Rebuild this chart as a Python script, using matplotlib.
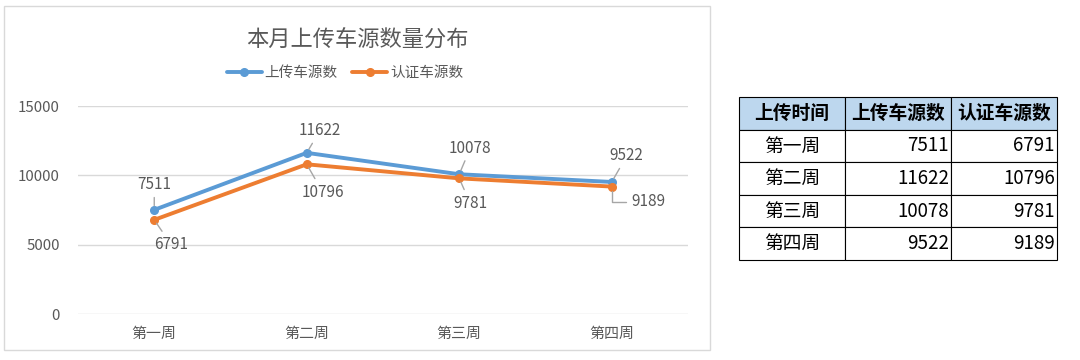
import matplotlib
matplotlib.use("Agg")
import matplotlib.pyplot as plt
from matplotlib.patches import Rectangle

plt.rcParams['font.family'] = ['Noto Sans CJK SC', 'DejaVu Sans']

title = "本月上传车源数量分布"
categories = ["第一周", "第二周", "第三周", "第四周"]
series_names = ["上传车源数", "认证车源数"]
uploaded = [7511, 11622, 10078, 9522]
certified = [6791, 10796, 9781, 9189]
table_header = ["上传时间", "上传车源数", "认证车源数"]
y_ticks = [0, 5000, 10000, 15000]

BLUE = "#5B9BD5"
ORANGE = "#ED7D31"
GRAY_TXT = "#595959"
LEADER = "#A6A6A6"

fig = plt.figure(figsize=(10.8, 3.6), dpi=100)

# chart frame
fig.patches.append(Rectangle((4/1080, 1-350/360), 706/1080, 344/360,
                             transform=fig.transFigure, fill=False,
                             edgecolor="#D9D9D9", linewidth=1.0))

ax = fig.add_axes([78/1080, 1-314/360, 610/1080, 208/360])
x = list(range(len(categories)))
ax.plot(x, uploaded, color=BLUE, lw=2.8, marker='o', ms=5.5, label=series_names[0],
        solid_capstyle='round', zorder=3)
ax.plot(x, certified, color=ORANGE, lw=2.8, marker='o', ms=5.5, label=series_names[1],
        solid_capstyle='round', zorder=3)
ax.set_xlim(-0.5, len(categories)-0.5)
ax.set_ylim(0, 15000)
ax.set_yticks(y_ticks)
ax.set_yticklabels([str(v) for v in y_ticks])
ax.set_xticks(x)
ax.set_xticklabels(categories)
ax.tick_params(axis='both', length=0, labelsize=10.8, colors=GRAY_TXT)
ax.tick_params(axis='y', pad=13)
ax.tick_params(axis='x', pad=9)
ax.grid(axis='y', color="#D9D9D9", lw=1.0)
ax.set_axisbelow(True)
for s in ax.spines.values():
    s.set_visible(False)

# data labels (offsets in px -> points)
k = 0.72
up_off = [(0, 25), (13, 22), (11, 26), (15, 26)]
ce_off = [(17, -25), (16, -28), (11, -25), (37, -15)]
for i, v in enumerate(uploaded):
    dx, dy = up_off[i]
    ax.annotate(str(v), (i, v), xytext=(dx*k, dy*k), textcoords='offset points',
                ha='center', va='center', fontsize=11, color=GRAY_TXT,
                arrowprops=dict(arrowstyle='-', color=LEADER, lw=1,
                                shrinkA=1, shrinkB=3), zorder=4)
for i, v in enumerate(certified):
    dx, dy = ce_off[i]
    cs = "angle,angleA=0,angleB=90,rad=0" if i == len(certified)-1 else "arc3"
    ax.annotate(str(v), (i, v), xytext=(dx*k, dy*k), textcoords='offset points',
                ha='center', va='center', fontsize=11, color=GRAY_TXT,
                arrowprops=dict(arrowstyle='-', color=LEADER, lw=1,
                                shrinkA=2, shrinkB=3, connectionstyle=cs), zorder=4)

fig.text(357/1080, 1-40/360, title, ha='center', va='center', fontsize=16, color=GRAY_TXT)
fig.legend(loc='center', bbox_to_anchor=(345/1080, 1-73/360), ncol=2, frameon=False,
           fontsize=10.5, labelcolor=GRAY_TXT, handlelength=2.4, columnspacing=1.0,
           handletextpad=0.2)

# table
tax = fig.add_axes([739/1080, 1-260/360, 318/1080, 163/360])
tax.axis('off')
cell_text = [[categories[i], str(uploaded[i]), str(certified[i])] for i in range(len(categories))]
tbl = tax.table(cellText=cell_text, colLabels=table_header, bbox=[0, 0, 1, 1],
                cellLoc='right')
tbl.auto_set_font_size(False)
for (r, c), cell in tbl.get_celld().items():
    cell.set_edgecolor("#000000")
    cell.set_linewidth(0.8)
    t = cell.get_text()
    t.set_fontsize(13.5)
    t.set_color("#000000")
    if r == 0:
        cell.set_facecolor("#BDD7EE")
        t.set_fontweight('bold')
        t.set_ha('center')
        cell._loc = 'center'
    elif c == 0:
        t.set_ha('center')
        cell._loc = 'center'
    else:
        cell.PAD = 0.02

fig.savefig("out.png", dpi=100)
